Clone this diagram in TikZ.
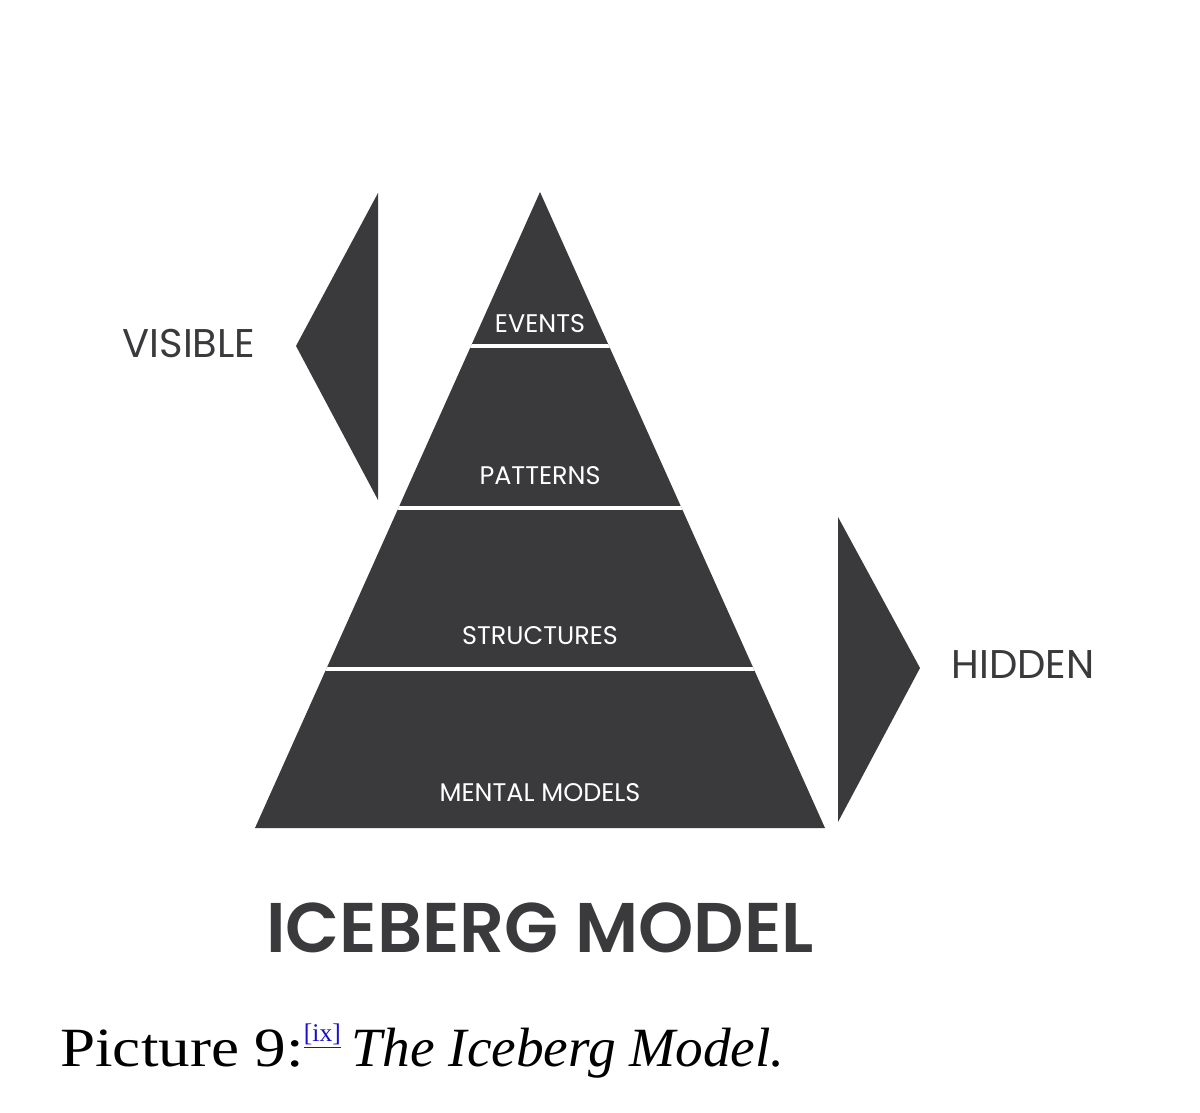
\documentclass[tikz,border=0pt]{standalone}
\usepackage{fontspec}
\setmainfont{Liberation Serif}
\newfontfamily\labelfont{Poppins}
\newfontfamily\titlefont{Poppins SemiBold}
\usepackage{xcolor}
\usepackage{tikz}
\usetikzlibrary{calc, positioning}
\definecolor{berg}{HTML}{3A3A3C}
\definecolor{linkblue}{HTML}{1A0DCC}
\tikzset{
    layer/.style={text=white, font=\labelfont\fontsize{14.5}{16}\selectfont, anchor=center},
    side/.style={text=berg, font=\labelfont\fontsize{22.8}{24}\selectfont, anchor=center},
    title/.style={text=berg, font=\titlefont\fontsize{40}{44}\selectfont, anchor=center},
    gap/.style={draw=white, line width=0.08cm},
}

\begin{document}
\begin{tikzpicture}
    \useasboundingbox[fill=white] (0,0) rectangle (24,22.24);

    % Pyramid
    \coordinate (apex) at (10.8,18.4);
    \coordinate (bl) at (5.1,5.68);
    \coordinate (br) at (16.5,5.68);
    \fill[berg] (apex) -- (bl) -- (br) -- cycle;
    \begin{scope}
        \clip (apex) -- (bl) -- (br) -- cycle;
        \foreach \y in {15.32, 12.08, 8.86} {
            \draw[gap] (4,\y) -- (18,\y);
        }
    \end{scope}

    % Side arrows
    \fill[berg] (7.56,18.38) -- (5.92,15.32) -- (7.56,12.24) -- cycle;
    \fill[berg] (16.76,11.9) -- (18.4,8.88) -- (16.76,5.8) -- cycle;

    % Labels
    \node[layer] (events) at (10.8,15.76) {EVENTS};
    \node[layer] (patterns) at (10.8,12.72) {PATTERNS};
    \node[layer] (structures) at (10.8,9.52) {STRUCTURES};
    \node[layer] (mental) at (10.8,6.38) {MENTAL MODELS};
    \node[side] (visible) at (3.78,15.38) {VISIBLE};
    \node[side] (hidden) at (20.46,8.94) {HIDDEN};
    \node[title] (iceberg) at (10.8,3.68) {ICEBERG MODEL};

    % Caption
    \node[anchor=base west, inner sep=0pt, font=\fontsize{31.5}{34}\selectfont] (caption) at (1.2,0.92)
        {\scalebox{1.14}[1]{Picture 9:}\raisebox{0.5cm}{\fontsize{14.5}{16}\selectfont\color{linkblue}\underline{[ix]}}\hspace{-0.05em} \textit{The Iceberg Model.}};
\end{tikzpicture}
\end{document}
